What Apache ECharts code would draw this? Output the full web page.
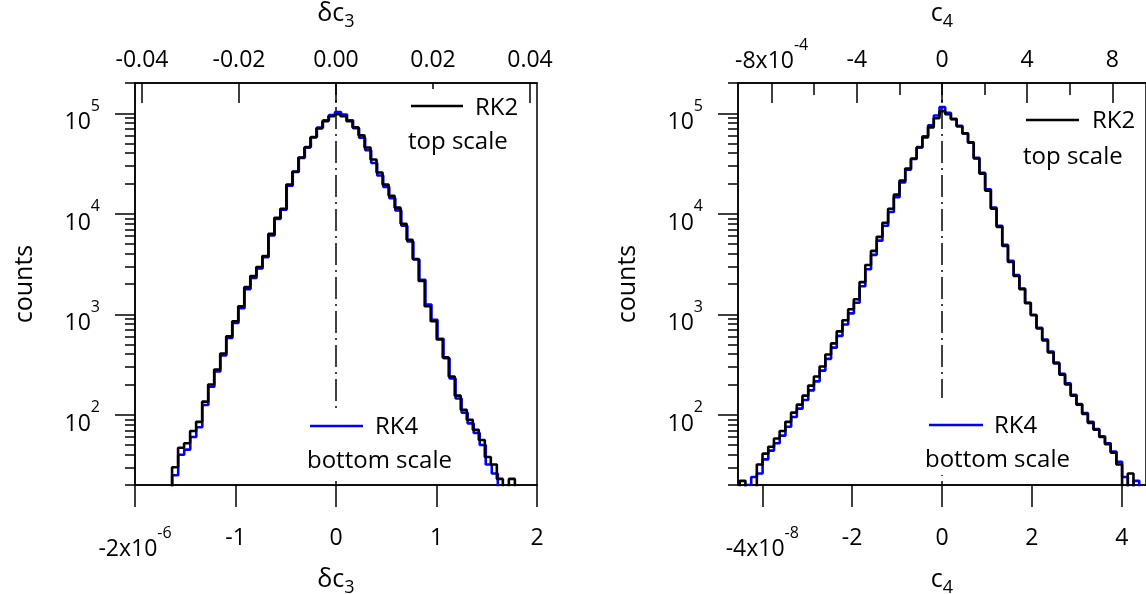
<!DOCTYPE html>
<html><head><meta charset="utf-8">
<script src="https://cdn.jsdelivr.net/npm/echarts@6/dist/echarts.min.js"></script>
<style>html,body{margin:0;padding:0;background:#fff}#c{width:1146px;height:594px}</style>
</head><body><div id="c"></div>
<script>
// ---------------- DATA ----------------
// tick labels
const leftTopTicks = [-0.04, -0.02, 0, 0.02, 0.04];      // δc3 (RK2, top scale)
const leftBottomTicks = [-2, -1, 0, 1, 2];               // δc3 ×1e-6 (RK4, bottom scale)
const rightTopTicks = [-8, -4, 0, 4, 8];                 // c4 ×1e-4 (RK2, top scale)
const rightTopMinorTicks = [-6, -2, 2, 6];
const rightBottomTicks = [-4, -2, 0, 2, 4];              // c4 ×1e-8 (RK4, bottom scale)
const countDecades = [2, 3, 4, 5];                       // 10^n
const countMin = 20, countMax = 200000;

// histogram bins (first edge, width) and counts
const leftRK2Start = -0.0338, leftRK2Width = 0.00124;
const leftRK2Counts = [30,47,52,69,85,135,200,282,407,603,851,1200,1860,2400,2950,3800,6300,9120,11200,19500,
  26300,36300,45700,57500,70800,83200,93300,97700,93300,83200,72400,60300,45700,34700,25700,19500,15100,11500,7940,5500,
  3550,2140,1200,851,562,372,240,155,112,89,71,56,38,32,23,10,23];
const leftRK4Start = -1.63, leftRK4Width = 0.06;
const leftRK4Counts = [25,40,45,60,75,125,190,270,390,580,820,1150,1780,2300,2850,3700,6100,8900,11000,19000,
  26000,36000,46000,58000,72000,85000,96000,103000,97000,85000,71000,57000,43000,32000,24000,18500,14300,10800,7600,5300,
  3500,2200,1250,880,570,365,230,145,105,82,66,50,32,26,12,8,8];
const rightRK2Start = -9.5, rightRK2Width = 0.268;
const rightRK2Counts = [22,10,16,32,41,48,58,69,85,105,126,155,195,240,302,398,513,676,871,1120,
  1410,2090,3090,4270,5890,8130,11200,15500,21400,28200,35500,45700,57500,72400,89100,105000,97700,87100,74100,63100,
  51300,35500,25100,17000,11200,7410,4790,3310,2400,1780,1290,977,724,550,417,324,251,200,155,126,
  102,83,71,60,51,42,32,10,26,10];
const rightRK4Start = -4.5, rightRK4Width = 0.127;
const rightRK4Counts = [10,20,24,26,36,44,52,62,76,95,115,140,175,215,275,360,465,610,790,1020,
  1300,1900,2800,3900,5400,7600,10400,14600,20500,27500,35000,46000,59000,76000,95000,115000,101000,88000,75000,63000,
  51000,36000,25500,17500,11500,7600,4900,3400,2450,1800,1300,990,735,560,425,330,255,205,158,128,
  104,85,72,61,52,43,34,24,12,22];

// ---------------- BUILD ----------------
const FF = '"Open Sans", sans-serif';
const L = Math.log10;
const yMin = L(countMin), yMax = L(countMax);
const majorY = countDecades.slice();
const minorY = [];
for (let e = 1; e <= 5; e++) for (let k = 2; k <= 9; k++) { const v = L(k * Math.pow(10, e)); if (v >= yMin - 1e-9 && v <= yMax + 1e-9) minorY.push(v); }

function stepData(start, width, counts) {
  const pts = [[start, 0]];
  counts.forEach((c, i) => pts.push([start + i * width, L(c)]));
  pts.push([start + counts.length * width, 0]);
  return pts;
}
const richX = {
  n: {fontSize: 23, lineHeight: 26, fontFamily: FF, color: '#000'},
  b: {fontSize: 23, lineHeight: 36, verticalAlign: 'bottom', fontFamily: FF, color: '#000'},
  s: {fontSize: 16, verticalAlign: 'top', fontFamily: FF, color: '#000'}
};
const richName = {
  a: {fontSize: 25, verticalAlign: 'top', fontFamily: FF, color: '#000'},
  b: {fontSize: 18, lineHeight: 30, verticalAlign: 'bottom', fontFamily: FF, color: '#000'}
};
const lineS = {color: '#000', width: 1.5};
function xAx(grid, pos, min, max, ticks, fmt, name, opts) {
  return Object.assign({
    type: 'value', gridIndex: grid, position: pos, min: min, max: max,
    axisLine: {show: true, onZero: false, lineStyle: lineS},
    axisTick: {show: true, inside: pos === 'top', length: pos === 'top' ? 20 : 22, lineStyle: lineS, customValues: ticks},
    axisLabel: {show: true, customValues: ticks, formatter: fmt, margin: pos === 'top' ? 10 : 40, rich: richX, color: '#000', fontFamily: FF, fontSize: 23},
    splitLine: {show: false},
    name: name, nameLocation: 'middle', nameGap: pos === 'top' ? 52 : 82, nameMoveOverlap: false,
    nameTextStyle: {rich: richName, color: '#000', fontFamily: FF}
  }, opts || {});
}
function yAxMajor(grid) {
  return {
    type: 'value', gridIndex: grid, position: 'left', min: yMin, max: yMax,
    axisLine: {show: true, onZero: false, lineStyle: lineS},
    axisTick: {show: true, inside: false, length: 20, lineStyle: lineS, customValues: majorY},
    axisLabel: {show: true, customValues: majorY, margin: 35, padding: [6, 0, 0, 0],
      formatter: v => '{b|10}{s|' + Math.round(v) + '}', rich: richX},
    splitLine: {show: false},
    name: 'counts', nameLocation: 'middle', nameGap: 98, nameMoveOverlap: false,
    nameTextStyle: {fontSize: 25, fontFamily: FF, color: '#000'}
  };
}
function yAxMinor(grid) {
  return {
    type: 'value', gridIndex: grid, position: 'left', min: yMin, max: yMax,
    axisLine: {show: false, onZero: false},
    axisTick: {show: true, inside: false, length: 10, lineStyle: lineS, customValues: minorY},
    axisLabel: {show: false}, splitLine: {show: false}
  };
}
function hist(xi, yi, start, width, counts, color, z) {
  return {type: 'line', xAxisIndex: xi, yAxisIndex: yi, data: stepData(start, width, counts), step: 'end',
    symbol: 'none', clip: true, z: z, lineStyle: {color: color, width: 2.6}, silent: true};
}
function zeroLine(xi, yi) {
  return {type: 'line', xAxisIndex: xi, yAxisIndex: yi, data: [[0, yMin], [0, yMax]], symbol: 'none', z: 1,
    lineStyle: {color: '#000', width: 1.5, type: [22, 5, 2, 5], dashOffset: 18}, silent: true};
}

const option = {
  animation: false,
  backgroundColor: '#fff',
  grid: [
    {left: 135, top: 83, width: 402, height: 402, show: true, borderColor: '#000', borderWidth: 1.5, backgroundColor: 'transparent', containLabel: false, outerBoundsMode: 'none'},
    {left: 738, top: 83, width: 408, height: 402, show: true, borderColor: '#000', borderWidth: 1.5, backgroundColor: 'transparent', containLabel: false, outerBoundsMode: 'none'}
  ],
  xAxis: [
    xAx(0, 'bottom', -2, 2, leftBottomTicks, v => v === -2 ? '{b|-2x10}{s|-6}' : '{n|' + v + '}', '{a|δc}{b|3}'),
    xAx(0, 'top', -0.04144, 0.04144, leftTopTicks, v => '{n|' + v.toFixed(2) + '}', '{a|δc}{b|3}'),
    xAx(1, 'bottom', -4.54, 4.54, rightBottomTicks, v => v === -4 ? '{b|-4x10}{s|-8}' : '{n|' + v + '}', '{a|c}{b|4}'),
    xAx(1, 'top', -9.58, 9.58, rightTopTicks, v => v === -8 ? '{b|-8x10}{s|-4}' : '{n|' + v + '}', '{a|c}{b|4}'),
    {type: 'value', gridIndex: 1, position: 'top', min: -9.58, max: 9.58,
      axisLine: {show: false, onZero: false},
      axisTick: {show: true, inside: true, length: 12, lineStyle: lineS, customValues: rightTopMinorTicks},
      axisLabel: {show: false}, splitLine: {show: false}}
  ],
  yAxis: [yAxMajor(0), yAxMinor(0), yAxMajor(1), yAxMinor(1)],
  series: [
    zeroLine(0, 0),
    hist(0, 0, leftRK4Start, leftRK4Width, leftRK4Counts, '#0000ff', 3),
    hist(1, 0, leftRK2Start, leftRK2Width, leftRK2Counts, '#000000', 4),
    zeroLine(2, 2),
    hist(2, 2, rightRK4Start, rightRK4Width, rightRK4Counts, '#0000ff', 3),
    hist(3, 2, rightRK2Start, rightRK2Width, rightRK2Counts, '#000000', 4)
  ],
  graphic: [
    // left panel legend
    {type: 'rect', z: 100, shape: {x: 405, y: 89, width: 118, height: 68}, style: {fill: '#fff'}},
    {type: 'line', z: 101, shape: {x1: 411, y1: 106, x2: 463, y2: 106}, style: {stroke: '#000', lineWidth: 2.5}},
    {type: 'text', z: 101, x: 475, y: 108, style: {text: 'RK2', fontSize: 24, fontFamily: FF, fill: '#000', align: 'left', verticalAlign: 'middle'}},
    {type: 'text', z: 101, x: 408, y: 142, style: {text: 'top scale', fontSize: 24, fontFamily: FF, fill: '#000', align: 'left', verticalAlign: 'middle'}},
    {type: 'rect', z: 100, shape: {x: 304, y: 408, width: 152, height: 69}, style: {fill: '#fff'}},
    {type: 'line', z: 101, shape: {x1: 310, y1: 426, x2: 363, y2: 426}, style: {stroke: '#0000ff', lineWidth: 2.5}},
    {type: 'text', z: 101, x: 375, y: 427, style: {text: 'RK4', fontSize: 24, fontFamily: FF, fill: '#000', align: 'left', verticalAlign: 'middle'}},
    {type: 'text', z: 101, x: 307, y: 461, style: {text: 'bottom scale', fontSize: 24, fontFamily: FF, fill: '#000', align: 'left', verticalAlign: 'middle'}},
    // right panel legend
    {type: 'rect', z: 100, shape: {x: 1020, y: 105, width: 122, height: 68}, style: {fill: '#fff'}},
    {type: 'line', z: 101, shape: {x1: 1026, y1: 120, x2: 1079, y2: 120}, style: {stroke: '#000', lineWidth: 2.5}},
    {type: 'text', z: 101, x: 1092, y: 121, style: {text: 'RK2', fontSize: 24, fontFamily: FF, fill: '#000', align: 'left', verticalAlign: 'middle'}},
    {type: 'text', z: 101, x: 1023, y: 157, style: {text: 'top scale', fontSize: 24, fontFamily: FF, fill: '#000', align: 'left', verticalAlign: 'middle'}},
    {type: 'rect', z: 100, shape: {x: 920, y: 398, width: 155, height: 77}, style: {fill: '#fff'}},
    {type: 'line', z: 101, shape: {x1: 929, y1: 425, x2: 983, y2: 425}, style: {stroke: '#0000ff', lineWidth: 2.5}},
    {type: 'text', z: 101, x: 994, y: 426, style: {text: 'RK4', fontSize: 24, fontFamily: FF, fill: '#000', align: 'left', verticalAlign: 'middle'}},
    {type: 'text', z: 101, x: 925, y: 460, style: {text: 'bottom scale', fontSize: 24, fontFamily: FF, fill: '#000', align: 'left', verticalAlign: 'middle'}}
  ]
};
const chart = echarts.init(document.getElementById('c'), null, {renderer: 'canvas'});
chart.setOption(option);
</script>
</body></html>
